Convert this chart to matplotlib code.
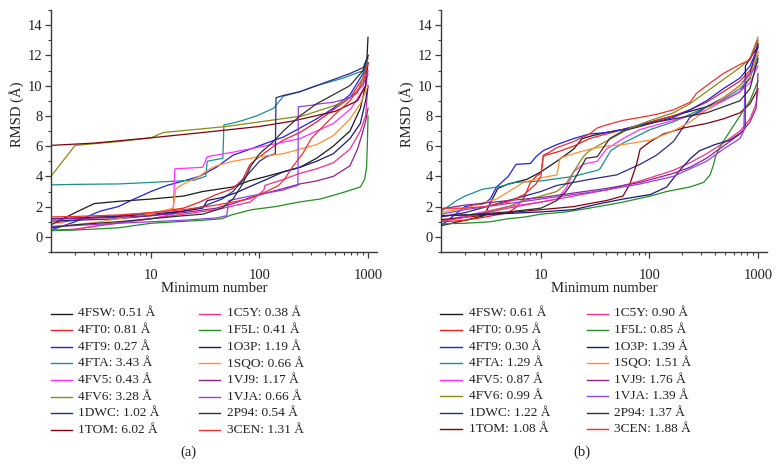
import matplotlib
matplotlib.use("Agg")
import matplotlib.pyplot as plt
from matplotlib.lines import Line2D
from matplotlib.ticker import MultipleLocator, LogLocator, NullFormatter, FixedLocator, FixedFormatter

plt.rcParams['font.family'] = ['Liberation Serif', 'DejaVu Serif']

# ---------------- data ----------------
names = ['4FSW', '4FT0', '4FT9', '4FTA', '4FV5', '4FV6', '1DWC', '1TOM',
         '1C5Y', '1F5L', '1O3P', '1SQO', '1VJ9', '1VJA', '2P94', '3CEN']
colors = ['#1a1a1a', '#f02020', '#2020e8', '#1a9090', '#ff30ff', '#8a8a10', '#2a2a8a', '#800010',
          '#f0308a', '#209020', '#18187a', '#ff9030', '#902090', '#9040e8', '#303030', '#f03030']

best_a = [0.51, 0.81, 0.27, 3.43, 0.43, 3.28, 1.02, 6.02, 0.38, 0.41, 1.19, 0.66, 1.17, 0.66, 0.54, 1.31]
best_b = [0.61, 0.95, 0.30, 1.29, 0.87, 0.99, 1.22, 1.08, 0.90, 0.85, 1.39, 1.51, 1.76, 1.39, 1.37, 1.88]

# panel (a) curves: minimum number -> RMSD
a_4FSW_x = [1, 2, 3, 5, 10, 20, 30, 57, 80, 116, 236, 336, 479, 682, 850, 950, 1000]
a_4FSW_y = [0.51, 1.6, 2.2, 2.35, 2.5, 2.7, 3.0, 3.3, 3.7, 4.0, 4.6, 5.2, 6.0, 7.0, 8.5, 10.0, 13.2]
a_4FT0_x = [1, 2, 3, 5, 10, 20, 28, 40, 57, 70, 82, 100, 130, 166, 236, 336, 479, 682, 900, 1000]
a_4FT0_y = [0.81, 1.1, 1.3, 1.4, 1.6, 1.9, 2.3, 2.8, 3.2, 3.8, 4.8, 5.3, 5.9, 6.4, 6.9, 7.6, 8.4, 9.2, 10.5, 12.0]
a_4FT9_x = [1, 2, 3.4, 5, 7, 10, 14, 20, 28, 40, 57, 82, 116, 166, 236, 336, 479, 682, 900, 1000]
a_4FT9_y = [0.27, 1.0, 1.7, 2.0, 2.5, 3.0, 3.4, 3.7, 4.0, 4.6, 5.4, 5.8, 6.2, 6.6, 7.2, 7.8, 8.5, 9.4, 10.8, 11.5]
a_4FTA_x = [1, 2, 5, 10, 25, 32, 33, 46, 47, 55, 70, 94, 135, 166, 236, 336, 592, 905, 1000]
a_4FTA_y = [3.43, 3.47, 3.5, 3.6, 3.75, 4.0, 5.0, 5.2, 7.4, 7.5, 7.7, 8.0, 8.5, 9.3, 9.6, 10.0, 10.5, 11.0, 11.8]
a_4FV5_x = [1, 2, 3, 5, 10, 16, 16.6, 30, 33, 57, 110, 236, 480, 700, 950, 1000]
a_4FV5_y = [0.43, 0.5, 0.7, 0.95, 1.2, 1.5, 4.5, 4.6, 5.3, 5.6, 6.0, 6.5, 7.5, 8.5, 10.0, 10.8]
a_4FV6_x = [1, 2, 5, 10, 13, 50, 250, 500, 800, 1000]
a_4FV6_y = [3.28, 6.05, 6.3, 6.55, 6.9, 7.3, 8.0, 8.7, 9.5, 11.5]
a_1DWC_x = [1, 2, 5, 10, 20, 30, 45, 57, 82, 100, 116, 140, 142, 166, 236, 336, 479, 682, 905, 1000]
a_1DWC_y = [1.02, 1.1, 1.2, 1.4, 1.7, 2.0, 2.5, 3.0, 4.3, 5.0, 5.3, 5.5, 9.2, 9.35, 9.6, 10.0, 10.4, 10.8, 11.2, 12.0]
a_1TOM_x = [1, 3, 10, 30, 100, 200, 500, 800, 950, 1000]
a_1TOM_y = [6.02, 6.2, 6.55, 6.9, 7.3, 7.65, 8.3, 9.0, 10.0, 11.5]
a_1C5Y_x = [1, 2, 3, 5, 10, 20, 40, 82, 110, 112, 166, 236, 336, 479, 682, 850, 950, 1000]
a_1C5Y_y = [0.38, 0.5, 0.7, 0.9, 1.2, 1.5, 1.8, 2.3, 3.1, 3.4, 3.8, 4.2, 4.5, 4.9, 5.8, 7.0, 8.0, 10.0]
a_1F5L_x = [1, 2, 5, 10, 30, 45, 55, 85, 140, 230, 360, 480, 630, 850, 930, 970, 985, 1000]
a_1F5L_y = [0.41, 0.45, 0.6, 0.9, 1.1, 1.2, 1.45, 1.8, 2.0, 2.3, 2.5, 2.75, 3.0, 3.3, 3.8, 4.6, 6.0, 8.0]
a_1O3P_x = [1, 2, 5, 10, 20, 30, 33, 45, 60, 80, 116, 166, 236, 336, 479, 682, 850, 950, 1000]
a_1O3P_y = [1.19, 1.25, 1.35, 1.5, 1.7, 1.9, 2.4, 2.6, 2.9, 3.3, 3.8, 4.3, 4.6, 5.0, 5.5, 6.5, 7.5, 9.0, 10.0]
a_1SQO_x = [1, 2, 3.4, 5, 10, 16, 17, 20, 28, 33, 40, 57, 100, 166, 236, 336, 479, 682, 850, 950, 1000]
a_1SQO_y = [0.66, 0.8, 1.0, 1.2, 1.5, 1.9, 3.2, 3.5, 4.0, 4.4, 4.7, 5.0, 5.3, 5.5, 5.8, 6.1, 6.7, 7.8, 8.8, 9.6, 10.0]
a_1VJ9_x = [1, 2, 5, 10, 20, 40, 57, 82, 116, 166, 236, 336, 479, 682, 800, 900, 960, 1000]
a_1VJ9_y = [1.17, 1.2, 1.3, 1.4, 1.6, 1.9, 2.2, 2.6, 2.9, 3.2, 3.5, 3.7, 4.0, 4.7, 5.8, 7.0, 7.8, 8.5]
a_1VJA_x = [1, 2, 5, 10, 20, 40, 50, 52, 82, 116, 166, 200, 226, 228, 300, 360, 479, 682, 900, 1000]
a_1VJA_y = [0.66, 0.75, 0.9, 1.0, 1.1, 1.25, 1.4, 2.4, 2.7, 2.9, 3.1, 3.3, 3.4, 8.6, 8.7, 8.8, 8.9, 9.2, 10.0, 11.0]
a_2P94_x = [1, 2, 5, 10, 20, 30, 45, 57, 70, 82, 100, 130, 166, 236, 336, 479, 682, 900, 1000]
a_2P94_y = [0.54, 0.8, 1.0, 1.2, 1.4, 1.5, 1.9, 2.5, 3.5, 4.6, 5.5, 6.2, 7.0, 8.0, 8.8, 9.4, 10.0, 11.0, 12.0]
a_3CEN_x = [1, 2, 5, 10, 20, 40, 80, 116, 150, 170, 200, 250, 300, 350, 479, 682, 900, 1000]
a_3CEN_y = [1.31, 1.35, 1.45, 1.6, 1.8, 2.1, 2.5, 3.0, 3.4, 3.8, 4.6, 5.5, 6.5, 7.0, 8.0, 9.0, 10.2, 11.5]

# panel (b) curves
b_4FSW_x = [1, 2, 3, 3.4, 4, 5, 7.4, 10, 14, 20, 24, 30, 40, 57, 82, 116, 166, 236, 336, 479, 682, 843, 1000]
b_4FSW_y = [0.61, 1.1, 1.4, 2.2, 3.2, 3.5, 3.8, 4.3, 5.0, 5.8, 6.5, 6.7, 6.9, 7.1, 7.4, 7.7, 8.0, 8.3, 8.6, 9.0, 9.6, 10.5, 12.8]
b_4FT0_x = [1, 2, 3, 5, 6, 7, 8, 9, 10, 10.5, 11, 14, 20, 28, 40, 57, 82, 116, 166, 236, 336, 479, 682, 843, 1000]
b_4FT0_y = [0.95, 1.1, 1.3, 1.6, 2.0, 2.6, 3.6, 4.0, 4.2, 5.3, 5.4, 5.6, 6.0, 6.5, 6.8, 7.1, 7.4, 7.7, 8.0, 8.4, 8.9, 9.6, 10.3, 11.0, 12.2]
b_4FT9_x = [1, 2, 3, 3.4, 3.9, 5, 5.9, 8, 9, 10.5, 14, 20, 28, 40, 57, 82, 116, 166, 236, 336, 479, 682, 843, 1000]
b_4FT9_y = [0.30, 2.0, 2.2, 2.5, 3.3, 4.0, 4.8, 4.85, 5.3, 5.7, 6.1, 6.5, 6.8, 6.9, 7.1, 7.4, 7.6, 7.9, 8.4, 9.0, 9.8, 10.5, 11.3, 12.5]
b_4FTA_x = [1, 1.67, 2, 2.9, 4, 5.9, 10, 20, 33, 35, 44, 57, 102, 166, 236, 336, 479, 682, 843, 1000]
b_4FTA_y = [1.29, 2.4, 2.7, 3.15, 3.3, 3.6, 3.7, 4.0, 4.4, 4.5, 5.7, 6.2, 7.1, 7.6, 8.1, 8.6, 9.1, 9.8, 10.5, 12.0]
b_4FV5_x = [1, 2, 5, 10, 14, 17, 20, 24.5, 33, 40, 57, 82, 116, 166, 236, 336, 479, 682, 843, 1000]
b_4FV5_y = [0.87, 1.4, 2.0, 2.3, 2.5, 3.2, 4.3, 4.8, 5.0, 5.8, 6.5, 7.1, 7.4, 7.7, 8.0, 8.4, 9.0, 9.6, 10.2, 11.3]
b_4FV6_x = [1, 2, 3.4, 5, 7, 10, 14, 17, 20, 24.5, 28, 33, 50, 66, 102, 166, 236, 336, 479, 682, 843, 1000]
b_4FV6_y = [0.99, 1.3, 1.7, 2.0, 2.4, 2.7, 3.0, 3.5, 4.3, 5.3, 5.7, 6.0, 6.7, 7.2, 7.7, 8.2, 8.8, 9.6, 10.4, 11.2, 11.8, 13.2]
b_1DWC_x = [1, 2, 5, 10, 14, 20, 28, 50, 82, 116, 166, 236, 336, 479, 682, 843, 1000]
b_1DWC_y = [1.22, 1.6, 2.4, 3.0, 3.4, 3.6, 3.8, 4.1, 4.8, 5.4, 6.3, 7.9, 8.6, 9.2, 10.0, 10.8, 12.7]
b_1TOM_x = [1, 2, 5, 10, 20, 28, 40, 57, 66, 76, 82, 102, 134, 206, 336, 479, 682, 843, 1000]
b_1TOM_y = [1.08, 1.3, 1.6, 1.8, 2.0, 2.2, 2.4, 2.7, 3.5, 4.8, 5.8, 6.3, 6.8, 7.2, 7.5, 7.8, 8.2, 8.8, 9.8]
b_1C5Y_x = [1, 2, 5, 10, 20, 40, 82, 166, 236, 336, 479, 682, 843, 960, 1000]
b_1C5Y_y = [0.90, 1.3, 1.9, 2.3, 2.7, 3.1, 3.7, 4.4, 4.9, 5.5, 6.2, 7.0, 7.8, 8.8, 9.7]
b_1F5L_x = [1, 2, 3.4, 5, 6.9, 10, 17, 28, 57, 102, 144, 236, 315, 362, 390, 405, 450, 553, 682, 843, 1000]
b_1F5L_y = [0.85, 0.9, 1.0, 1.2, 1.3, 1.5, 1.65, 1.9, 2.3, 2.7, 3.0, 3.3, 3.6, 4.1, 4.8, 5.3, 6.0, 7.0, 8.0, 9.0, 10.3]
b_1O3P_x = [1, 2, 5, 10, 20, 35, 57, 102, 144, 190, 240, 290, 400, 553, 700, 760, 765, 1000]
b_1O3P_y = [1.39, 1.45, 1.55, 1.65, 1.8, 2.2, 2.5, 2.8, 3.3, 4.4, 5.2, 5.7, 6.1, 6.4, 6.9, 7.2, 11.3, 12.6]
b_1SQO_x = [1, 2, 3.9, 6.9, 10, 14, 15, 20, 28, 40, 57, 102, 166, 236, 336, 479, 682, 843, 1000]
b_1SQO_y = [1.51, 1.9, 2.5, 3.6, 3.9, 4.1, 5.2, 5.5, 5.8, 6.0, 6.1, 6.4, 7.0, 7.6, 8.4, 9.2, 10.0, 10.6, 12.3]
b_1VJ9_x = [1, 2, 5, 10, 20, 40, 82, 166, 236, 336, 479, 682, 843, 960, 1000]
b_1VJ9_y = [1.76, 2.1, 2.4, 2.6, 2.9, 3.2, 3.6, 4.2, 4.6, 5.2, 6.0, 6.8, 7.6, 8.5, 10.8]
b_1VJA_x = [1, 2, 5, 10, 20, 40, 82, 166, 236, 336, 479, 682, 740, 760, 900, 1000]
b_1VJA_y = [1.39, 1.8, 2.2, 2.5, 2.8, 3.1, 3.5, 4.0, 4.5, 5.0, 5.8, 6.5, 7.0, 10.5, 11.0, 11.6]
b_2P94_x = [1, 2, 5, 10, 14, 17, 20, 26, 33, 43, 57, 82, 116, 166, 236, 336, 479, 682, 843, 1000]
b_2P94_y = [1.37, 1.45, 1.65, 1.9, 2.4, 3.0, 3.7, 5.2, 5.3, 6.5, 7.0, 7.3, 7.6, 7.8, 8.0, 8.2, 8.6, 9.0, 9.8, 11.8]
b_3CEN_x = [1, 2, 3, 5, 7, 9, 10, 10.5, 12, 14, 20, 28, 33, 40, 57, 82, 116, 166, 236, 272, 336, 479, 682, 843, 1000]
b_3CEN_y = [1.88, 1.9, 2.0, 2.3, 2.8, 3.5, 4.0, 5.4, 5.6, 5.9, 6.3, 6.8, 7.2, 7.4, 7.7, 7.9, 8.1, 8.4, 8.9, 9.5, 10.0, 10.8, 11.4, 11.7, 13.0]

curves_a = [(a_4FSW_x, a_4FSW_y), (a_4FT0_x, a_4FT0_y), (a_4FT9_x, a_4FT9_y), (a_4FTA_x, a_4FTA_y),
            (a_4FV5_x, a_4FV5_y), (a_4FV6_x, a_4FV6_y), (a_1DWC_x, a_1DWC_y), (a_1TOM_x, a_1TOM_y),
            (a_1C5Y_x, a_1C5Y_y), (a_1F5L_x, a_1F5L_y), (a_1O3P_x, a_1O3P_y), (a_1SQO_x, a_1SQO_y),
            (a_1VJ9_x, a_1VJ9_y), (a_1VJA_x, a_1VJA_y), (a_2P94_x, a_2P94_y), (a_3CEN_x, a_3CEN_y)]
curves_b = [(b_4FSW_x, b_4FSW_y), (b_4FT0_x, b_4FT0_y), (b_4FT9_x, b_4FT9_y), (b_4FTA_x, b_4FTA_y),
            (b_4FV5_x, b_4FV5_y), (b_4FV6_x, b_4FV6_y), (b_1DWC_x, b_1DWC_y), (b_1TOM_x, b_1TOM_y),
            (b_1C5Y_x, b_1C5Y_y), (b_1F5L_x, b_1F5L_y), (b_1O3P_x, b_1O3P_y), (b_1SQO_x, b_1SQO_y),
            (b_1VJ9_x, b_1VJ9_y), (b_1VJA_x, b_1VJA_y), (b_2P94_x, b_2P94_y), (b_3CEN_x, b_3CEN_y)]

xticks = [10, 100, 1000]
xtick_labels = ['10', '100', '1000']
yticks = [0, 2, 4, 6, 8, 10, 12, 14]

# ---------------- figure ----------------
W, H = 778, 465
fig = plt.figure(figsize=(W / 100, H / 100), dpi=100)

spine_c = '#3a3a3a'

def make_axes(left_px, curves, best, panel_label, label_x, leg):
    ax = fig.add_axes([left_px / W, 1 - 252 / H, 326 / W, 242 / H])
    for (xs, ys), c in zip(curves, colors):
        ax.plot(xs, ys, color=c, lw=0.9)
    ax.set_xscale('log')
    ax.set_xlim(1.2, 1210)
    ax.set_ylim(-1, 15)
    ax.xaxis.set_major_locator(FixedLocator(xticks))
    ax.xaxis.set_major_formatter(FixedFormatter(xtick_labels))
    ax.xaxis.set_minor_locator(LogLocator(base=10, subs=range(2, 10)))
    ax.xaxis.set_minor_formatter(NullFormatter())
    ax.yaxis.set_major_locator(FixedLocator(yticks))
    ax.yaxis.set_minor_locator(MultipleLocator(1))
    for s in ['top', 'right']:
        ax.spines[s].set_visible(False)
    for s in ['left', 'bottom']:
        ax.spines[s].set_color(spine_c)
        ax.spines[s].set_linewidth(1.0)
    ax.tick_params(which='major', direction='out', length=4, width=0.9, color=spine_c,
                   labelsize=10.5, labelcolor='#222222')
    ax.tick_params(which='minor', direction='out', length=2.5, width=0.8, color=spine_c)
    ax.tick_params(axis='x', which='major', pad=8)
    ax.tick_params(axis='y', which='major', pad=2)
    ax.set_xlabel('Minimum number', fontsize=10.5, color='#222222', labelpad=0)
    ax.set_ylabel('RMSD (Å)', fontsize=10.5, color='#222222')
    ax.yaxis.set_label_coords(-0.082, 0.57)
    ax.xaxis.set_label_coords(0.5, -0.122)
    # legend entries
    (h1x0, h1x1, t1x), (h2x0, h2x1, t2x), y0, dy = leg
    for i, (n, c, b) in enumerate(zip(names, colors, best)):
        col, row = divmod(i, 8)
        yy = y0 + dy * row
        hx0, hx1, tx = (h1x0, h1x1, t1x) if col == 0 else (h2x0, h2x1, t2x)
        fig.add_artist(Line2D([hx0 / W, hx1 / W], [1 - yy / H, 1 - yy / H], color=c, lw=1.0,
                              transform=fig.transFigure))
        fig.text(tx / W, 1 - yy / H, f'{n}: {b:.2f} Å', fontsize=9.6, color='#222222',
                 va='center', ha='left')
    fig.text(label_x / W, 1 - 452 / H, panel_label, fontsize=10.5, color='#222222',
             ha='center', va='center')
    return ax

make_axes(51, curves_a, best_a, '(a)', 188, ((51, 72, 78), (199, 220, 227), 313.5, 16.6))
make_axes(441, curves_b, best_b, '(b)', 582, ((440, 462, 469), (587, 608, 614), 313.5, 16.5))

fig.savefig('out.png', dpi=100)
